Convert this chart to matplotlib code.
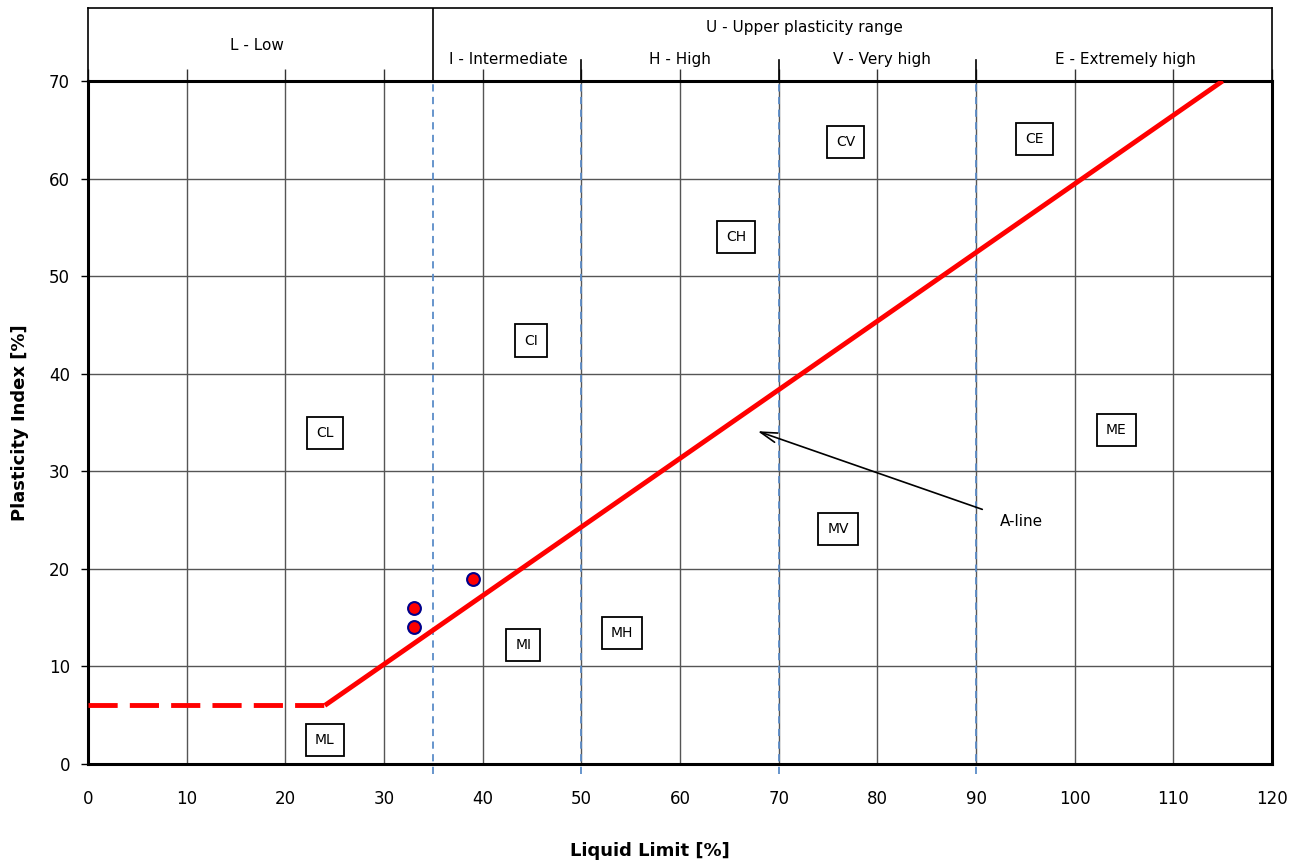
import matplotlib.pyplot as plt
import numpy as np

# A-line and its dashed continuation
aline_x = [24, 115]
aline_y = [6, 70]
dash_x = [0, 24]
dash_y = [6, 6]

# test points
pts_ll = [33, 33, 39]
pts_pi = [16, 14, 19]

# zone labels
zones = ["CL", "ML", "CI", "MI", "MH", "CH", "MV", "CV", "CE", "ME"]
zone_x = [24.0, 24.0, 44.9, 44.1, 54.1, 65.7, 76.0, 76.8, 95.9, 104.2]
zone_y = [33.9, 2.5, 43.4, 12.2, 13.4, 54.0, 24.1, 63.7, 64.1, 34.2]

# plasticity boundaries
bounds = [35, 50, 70, 90]
sub_labels = ["I - Intermediate", "H - High", "V - Very high", "E - Extremely high"]
sub_x = [42.6, 60.0, 80.5, 105.1]

fig = plt.figure(figsize=(13.1, 8.65), dpi=100)
ax = fig.add_axes([0.0672, 0.1168, 0.9038, 0.7896])

ax.set_xlim(0, 120)
ax.set_ylim(0, 70)
ax.set_xticks(np.arange(0, 121, 10))
ax.set_yticks(np.arange(0, 71, 10))
ax.grid(True, color="#555555", linewidth=1)
ax.set_axisbelow(True)
ax.tick_params(axis="x", bottom=False, top=True, labeltop=False, direction="out",
               length=9, width=1, color="#333333", labelsize=12, pad=10)
ax.tick_params(axis="y", direction="out", length=5, width=1, labelsize=12, pad=8)
for s in ax.spines.values():
    s.set_linewidth(2.2)

for b in bounds:
    ax.plot([b, b], [-1, 70], color="#5b8cc8", linestyle=(0, (4, 3)),
            linewidth=1.3, clip_on=False, zorder=2)

ax.plot(dash_x, dash_y, color="red", linewidth=3.5, linestyle=(0, (6, 2.5)), zorder=3)
ax.plot(aline_x, aline_y, color="red", linewidth=3.5, zorder=3, solid_capstyle="butt")

ax.scatter(pts_ll, pts_pi, s=85, color="red", edgecolor="#00008b", linewidth=1.5, zorder=5)

for lab, x, y in zip(zones, zone_x, zone_y):
    ax.text(x, y, lab, ha="center", va="center", fontsize=10,
            bbox=dict(boxstyle="square,pad=0.65", facecolor="white", edgecolor="black", linewidth=1.3),
            zorder=6)

ax.annotate("", xy=(67.6, 34.2), xytext=(90.9, 26.0),
            arrowprops=dict(arrowstyle="->,head_length=1.2,head_width=0.35",
                            color="black", lw=1.2), zorder=6)
ax.text(92.4, 24.8, "A-line", ha="left", va="center", fontsize=11)

ax.set_ylabel("Plasticity Index [%]", fontsize=13, fontweight="bold", labelpad=14)
fig.text(0.4962, 1 - 851 / 865, "Liquid Limit [%]", ha="center", va="center",
         fontsize=13, fontweight="bold")

# classification band on top
band = fig.add_axes([0.0672, 0.9064, 0.9038, 0.0844])
band.patch.set_visible(False)
band.set_xlim(0, 120)
band.set_ylim(0, 1)
band.set_xticks([])
band.set_yticks([])
for s in band.spines.values():
    s.set_linewidth(1.2)
band.spines["bottom"].set_visible(False)
band.plot([35, 35], [0, 1], color="black", linewidth=1.2)
for b in bounds[1:]:
    band.plot([b, b], [0, 0.29], color="black", linewidth=1.2)
band.text(17.1, 0.48, "L - Low", ha="center", va="center", fontsize=11)
band.text(72.6, 0.73, "U - Upper plasticity range", ha="center", va="center", fontsize=11)
for lab, x in zip(sub_labels, sub_x):
    band.text(x, 0.30, lab, ha="center", va="center", fontsize=11)

fig.savefig("out.png", dpi=100)
